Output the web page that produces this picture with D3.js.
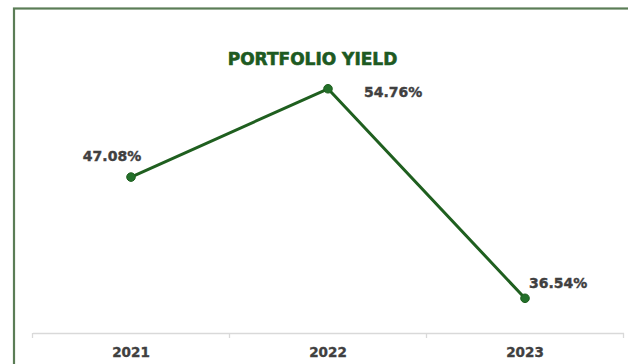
<!DOCTYPE html>
<html>
<head>
<meta charset="utf-8">
<script src="https://cdn.jsdelivr.net/npm/d3@7"></script>
<style>
  html, body { margin: 0; padding: 0; background: #fff; }
  svg { display: block; }
</style>
</head>
<body>
<svg id="chart" width="628" height="364"></svg>
<script>
// Portfolio yield by year
const years = ["2021", "2022", "2023"];
const yieldPct = [47.08, 54.76, 36.54];
const chartTitle = "PORTFOLIO YIELD";

const svg = d3.select("#chart");
const W = 628, H = 364;
const FONT = "'DejaVu Sans', Verdana, sans-serif";

svg.append("rect").attr("width", W).attr("height", H).attr("fill", "#fff");

// chart frame (runs past the right and bottom edges)
svg.append("rect")
  .attr("x", 14).attr("y", 8.5)
  .attr("width", W + 20).attr("height", H + 20)
  .attr("fill", "none")
  .attr("stroke", "#5b7d56")
  .attr("stroke-width", 2.2);

const x = d3.scaleBand().domain(years).range([32.5, 623.5]);
const y = d3.scaleLinear().domain([35, 57]).range([316, 63]);

// category axis
const axisY = 333;
const axis = svg.append("g")
  .attr("transform", `translate(0,${axisY})`)
  .call(d3.axisBottom(x).tickSize(0).tickPadding(14));
axis.select(".domain").attr("stroke", "#d9d9d9").attr("stroke-width", 1.3);
axis.selectAll(".tick text")
  .attr("font-family", FONT)
  .attr("font-size", 13.5)
  .attr("font-weight", "bold")
  .attr("fill", "#404040")
  .attr("stroke", "#404040")
  .attr("stroke-width", 0.35);

// tick marks at category boundaries
const edges = years.map(d => x(d)).concat([x(years[years.length - 1]) + x.bandwidth()]);
svg.append("g").selectAll("line").data(edges).join("line")
  .attr("x1", d => d).attr("x2", d => d)
  .attr("y1", axisY).attr("y2", axisY + 5)
  .attr("stroke", "#d9d9d9").attr("stroke-width", 1.3);

const cx = d => x(d) + x.bandwidth() / 2;
const pts = years.map((yr, i) => ({ yr, v: yieldPct[i] }));

svg.append("path")
  .datum(pts)
  .attr("fill", "none")
  .attr("stroke", "#1f5f1f")
  .attr("stroke-width", 3)
  .attr("stroke-linejoin", "round")
  .attr("d", d3.line().x(d => cx(d.yr)).y(d => y(d.v)));

svg.append("g").selectAll("circle").data(pts).join("circle")
  .attr("cx", d => cx(d.yr)).attr("cy", d => y(d.v))
  .attr("r", 4.3)
  .attr("fill", "#23702a")
  .attr("stroke", "#1f5f1f").attr("stroke-width", 1);

// value labels
const labelOffsets = [
  { dx: -19, dy: -16, anchor: "middle" },
  { dx: 36, dy: 8, anchor: "start" },
  { dx: 4, dy: -10, anchor: "start" }
];
svg.append("g").selectAll("text").data(pts).join("text")
  .attr("x", (d, i) => cx(d.yr) + labelOffsets[i].dx)
  .attr("y", (d, i) => y(d.v) + labelOffsets[i].dy)
  .attr("text-anchor", (d, i) => labelOffsets[i].anchor)
  .attr("font-family", FONT)
  .attr("font-size", 14)
  .attr("font-weight", "bold")
  .attr("fill", "#404040")
  .attr("stroke", "#404040")
  .attr("stroke-width", 0.4)
  .text(d => d.v.toFixed(2) + "%");

// title
svg.append("text")
  .attr("x", 312.5).attr("y", 65)
  .attr("text-anchor", "middle")
  .attr("font-family", FONT)
  .attr("font-size", 17)
  .attr("font-weight", "bold")
  .attr("fill", "#1d5a22")
  .attr("stroke", "#1d5a22")
  .attr("stroke-width", 0.6)
  .text(chartTitle);
</script>
</body>
</html>
